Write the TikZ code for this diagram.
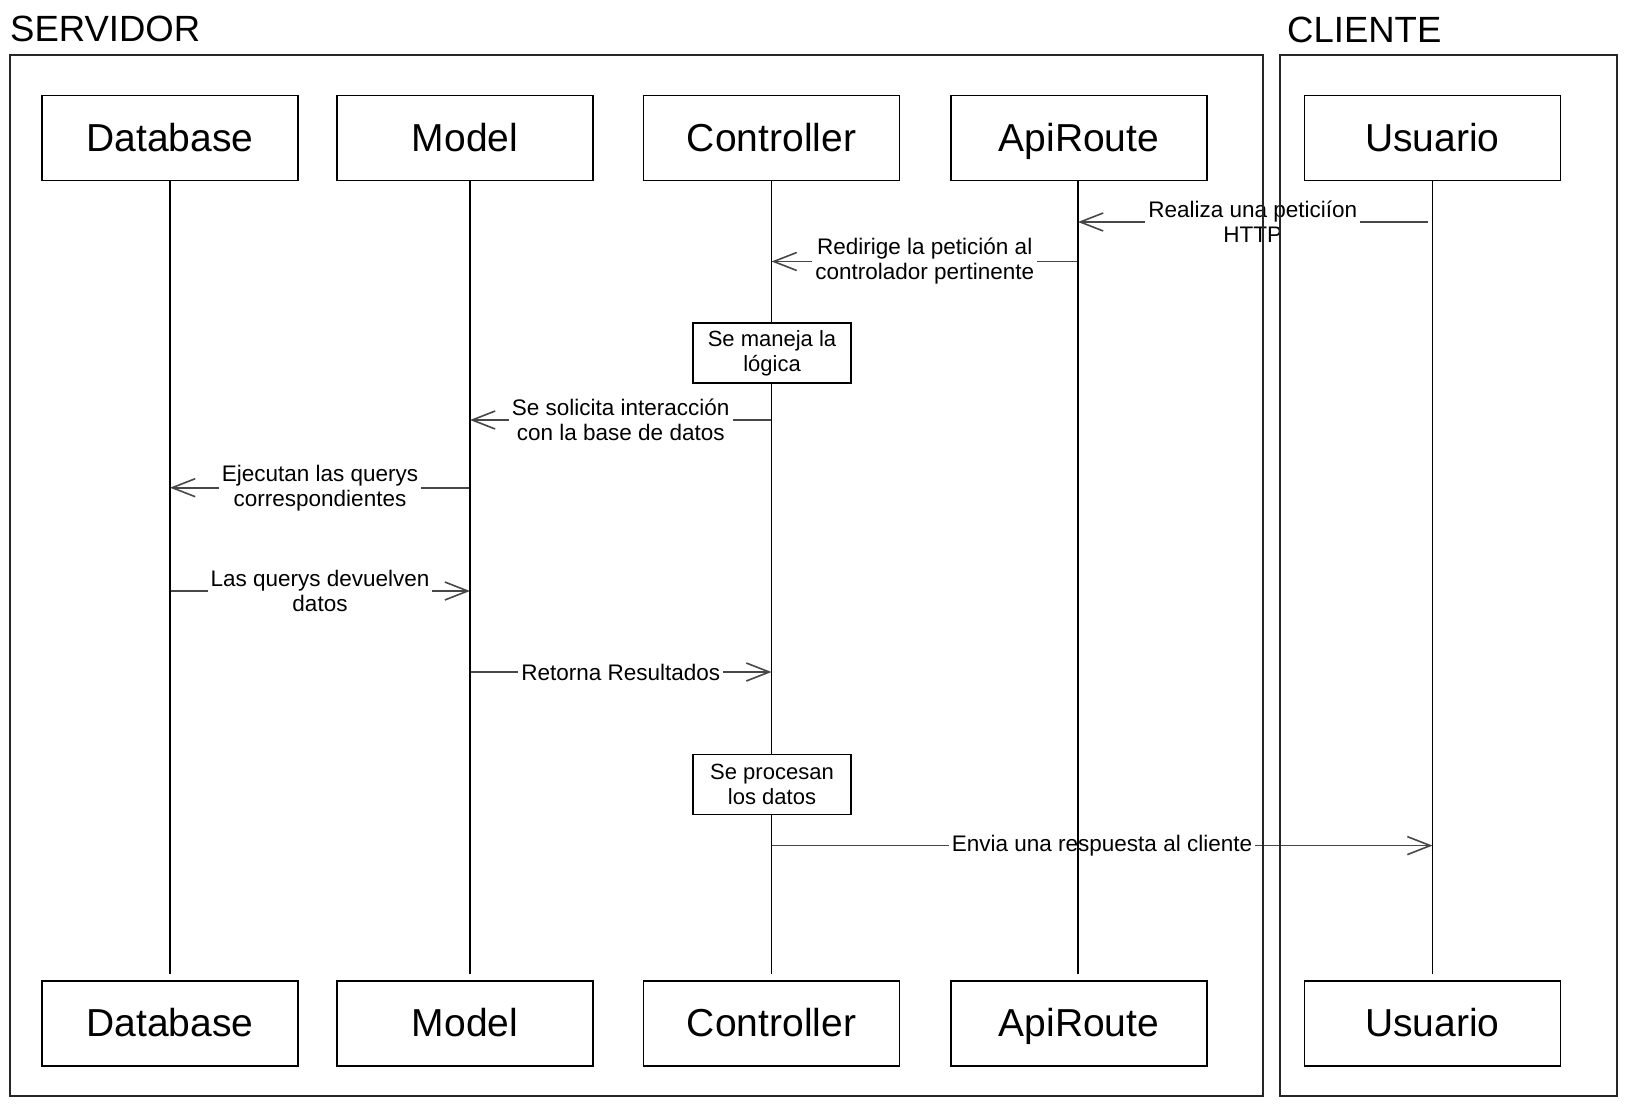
\documentclass[tikz,border=0pt]{standalone}
\usepackage{fontspec}
\setmainfont{Liberation Sans}
\usetikzlibrary{arrows.meta}
\begin{document}
\begin{tikzpicture}[x=1pt,y=-1pt,
  actor/.style={draw=black, line width=1.4pt, minimum width=256pt, minimum height=85pt, font=\fontsize{39}{43}\selectfont, inner sep=0pt, text height=31pt, text depth=5pt},
  frame/.style={draw=black!85, line width=1.6pt, inner sep=0pt},
  life/.style={draw=black, line width=1.3pt},
  msg/.style={draw=black!72, line width=1.6pt, -{Straight Barb[length=23pt,width=18pt,line width=1.6pt]}},
  lbl/.style={fill=white, inner xsep=3pt, inner ysep=1pt, align=center, font=\fontsize{22.5}{25}\selectfont, text=black},
  act/.style={draw=black, fill=white, line width=1.3pt, minimum width=158pt, minimum height=60pt, align=center, font=\fontsize{22}{25}\selectfont, inner sep=0pt},
  ttl/.style={font=\fontsize{36.5}{40}\selectfont, anchor=base west, inner sep=0pt}
]
\useasboundingbox (0,0) rectangle (1627,1105);

% titles
\node[ttl] (tsrv) at (10,42) {SERVIDOR};
\node[ttl] (tcli) at (1287,43) {CLIENTE};

% head boxes
\node[actor] (hdb)  at (170,138)    {Database};
\node[actor] (hm)   at (465,138)    {Model};
\node[actor] (hc)   at (771.5,138)  {Controller};
\node[actor] (hapi) at (1079,138)   {ApiRoute};
\node[actor] (hu)   at (1432.5,138) {Usuario};

% foot boxes
\node[actor] (fdb)  at (170,1023.5)    {Database};
\node[actor] (fm)   at (465,1023.5)    {Model};
\node[actor] (fc)   at (771.5,1023.5)  {Controller};
\node[actor] (fapi) at (1079,1023.5)   {ApiRoute};
\node[actor] (fu)   at (1432.5,1023.5) {Usuario};

% lifeline anchors
\coordinate (Ldb)  at (hdb.south);
\coordinate (Lm)   at ([xshift=5pt]hm.south);
\coordinate (Lc)   at (hc.south);
\coordinate (Lapi) at ([xshift=-1pt]hapi.south);
\coordinate (Lu)   at (hu.south);

% message rows
\coordinate (r1) at (0,222);
\coordinate (r2) at (0,261.5);
\coordinate (r3) at (0,420);
\coordinate (r4) at (0,487.7);
\coordinate (r5) at (0,591);
\coordinate (r6) at (0,672);
\coordinate (r7) at (0,845.6);

% messages
\draw[msg] ([xshift=-5pt]Lu |- r1) -- node[lbl] {Realiza una peticiíon\\HTTP} (Lapi |- r1);
\draw[msg] (Lapi |- r2) -- node[lbl] {Redirige la petición al\\controlador pertinente} (Lc |- r2);
\draw[msg] (Lc |- r3) -- node[lbl] {Se solicita interacción\\con la base de datos} (Lm |- r3);
\draw[msg] (Lm |- r4) -- node[lbl] {Ejecutan las querys\\correspondientes} (Ldb |- r4);
\draw[msg] (Ldb |- r5) -- node[lbl] {Las querys devuelven\\datos} (Lm |- r5);
\draw[msg] (Lm |- r6) -- node[lbl] {Retorna Resultados} (Lc |- r6);
\draw[msg] (Lc |- r7) -- node[lbl] {Envia una respuesta al cliente} (Lu |- r7);

% lifelines
\draw[life, shorten >=6pt] (Ldb)  -- (Ldb |- fdb.north);
\draw[life, shorten >=6pt] (Lm)   -- (Lm |- fm.north);
\draw[life, shorten >=6pt] (Lc)   -- (Lc |- fc.north);
\draw[life, shorten >=6pt] (Lapi) -- (Lapi |- fapi.north);
\draw[life, shorten >=6pt] (Lu)   -- (Lu |- fu.north);

% frames
\node[frame, minimum width=1253pt, minimum height=1041pt] (srv) at (636.5,575.5) {};
\node[frame, minimum width=337pt, minimum height=1041pt] (cli) at (1448.5,575.5) {};

% activation boxes
\node[act] (a1) at (772,353) {Se maneja la\\lógica};
\node[act] (a2) at (772,784.7) {Se procesan\\los datos};
\end{tikzpicture}
\end{document}
